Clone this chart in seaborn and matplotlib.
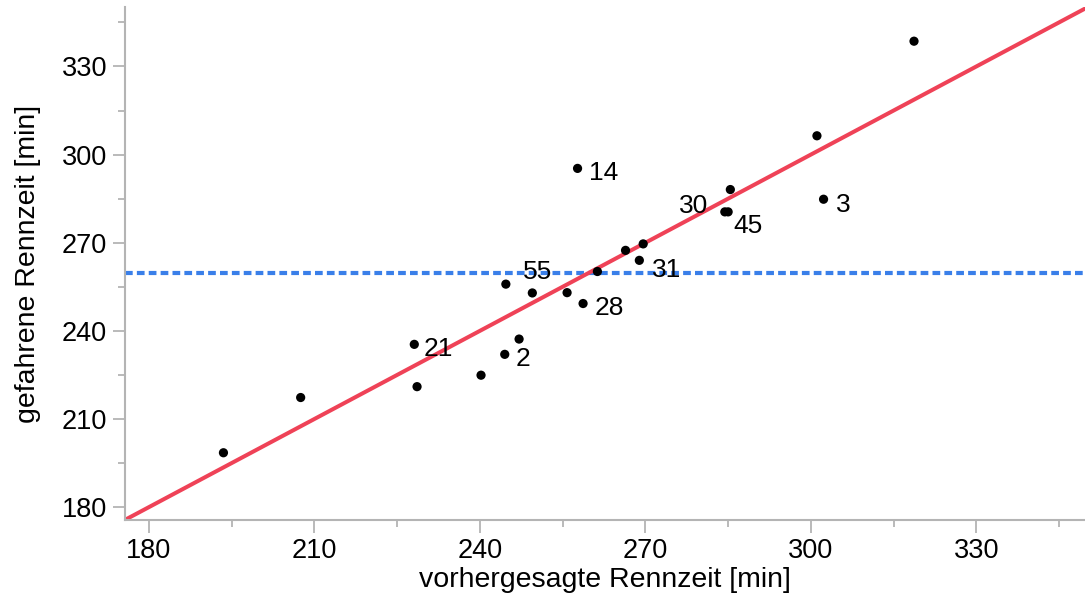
import matplotlib
matplotlib.use("Agg")
import matplotlib.pyplot as plt
from matplotlib.ticker import MultipleLocator
import seaborn as sns
import pandas as pd

# Data
predicted = [193.5, 207.5, 228.1, 228.6, 240.2, 244.5, 247.1, 257.7, 285.4, 284.4,
             285.0, 302.3, 269.6, 266.4, 268.9, 261.3, 244.7, 249.5, 255.8, 258.7,
             318.7, 301.1]
actual = [198.5, 217.3, 235.4, 221.0, 224.9, 232.0, 237.2, 295.3, 288.1, 280.5,
          280.5, 284.8, 269.6, 267.4, 264.0, 260.2, 255.9, 252.9, 253.0, 249.3,
          338.6, 306.4]
point_labels = ["", "", "21", "", "", "2", "", "14", "", "30",
                "45", "3", "", "", "31", "", "55", "", "", "28",
                "", ""]
mean_actual = 259.7
x_ticks = [180, 210, 240, 270, 300, 330]
y_ticks = [180, 210, 240, 270, 300, 330]

df = pd.DataFrame({"pred": predicted, "act": actual, "lab": point_labels})

sns.set_theme(style="white")
plt.rcParams['font.family'] = ['Liberation Sans', 'DejaVu Sans']

fig = plt.figure(figsize=(10.85, 5.98), dpi=100)
ax = fig.add_axes([0.1152, 0.1304, 0.8848, 0.8572])

lo, hi = 175.6, 350.0
ax.set_xlim(175.65, 349.7)
ax.set_ylim(175.6, 350.1)

ax.axhline(mean_actual, color="#3a7fe9", lw=3.0, ls=(0, (1.85, 1.0)), zorder=1)
ax.plot([lo - 5, hi + 5], [lo - 5, hi + 5], color="#ef4257", lw=2.9, zorder=2,
        solid_capstyle="butt")

sns.scatterplot(data=df, x="pred", y="act", color="black", s=44, edgecolor="none",
                ax=ax, zorder=3, legend=False)

# label offsets in points (dx, dy)
offsets = {
    "21": (7, -3), "2": (8, -3), "14": (8, -3), "30": (-33, 4),
    "45": (4, -10), "3": (9, -4), "31": (9, -7), "55": (12, 9),
    "28": (8, -3),
}
for x, y, lab in zip(df["pred"], df["act"], df["lab"]):
    if lab:
        dx, dy = offsets[lab]
        ax.annotate(lab, (x, y), xytext=(dx, dy), textcoords="offset points",
                    ha="left", va="center", fontsize=19, color="black", zorder=4)

ax.set_xticks(x_ticks)
ax.set_yticks(y_ticks)
ax.xaxis.set_minor_locator(MultipleLocator(15))
ax.yaxis.set_minor_locator(MultipleLocator(15))
ax.tick_params(axis="both", which="major", direction="out", length=9, width=1.3,
               color="#b4b4b4", labelsize=19.5, labelcolor="black", pad=4,
               bottom=True, left=True)
ax.tick_params(axis="both", which="minor", direction="out", length=5, width=1.3,
               color="#b4b4b4", bottom=True, left=True)

for side in ["top", "right"]:
    ax.spines[side].set_visible(False)
for side in ["left", "bottom"]:
    ax.spines[side].set_color("#b4b4b4")
    ax.spines[side].set_linewidth(1.5)

ax.set_xlabel("vorhergesagte Rennzeit [min]", fontsize=20.5, color="black", labelpad=2)
ax.set_ylabel("gefahrene Rennzeit [min]", fontsize=20.5, color="black", labelpad=15)

fig.savefig("out.png", dpi=100)
